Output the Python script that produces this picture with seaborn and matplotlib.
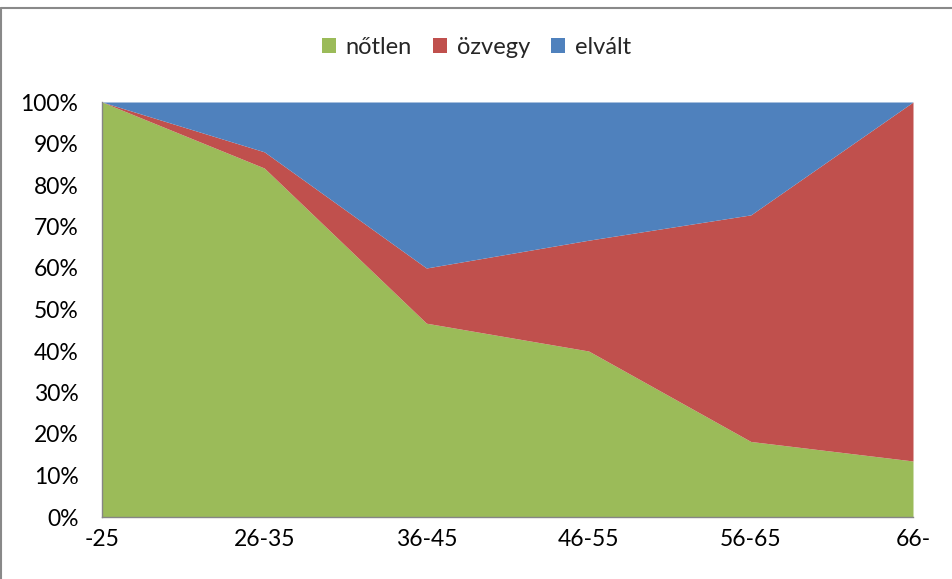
import matplotlib
matplotlib.use("Agg")
import matplotlib.pyplot as plt
from matplotlib.lines import Line2D
from matplotlib.patches import Patch
import seaborn as sns
import numpy as np

categories = ["-25", "26-35", "36-45", "46-55", "56-65", "66-"]
notlen = [100.0, 84.1, 46.7, 40.0, 18.2, 13.5]
ozvegy = [0.0, 3.9, 13.3, 26.7, 54.6, 86.5]
elvalt = [0.0, 12.0, 40.0, 33.3, 27.2, 0.0]
series_names = ["nőtlen", "özvegy", "elvált"]
colors = ["#9BBB59", "#C0504D", "#4F81BD"]

sns.set_theme(style="white")
plt.rcParams["font.family"] = ["Lato", "DejaVu Sans"]

W, H = 953, 579
fig = plt.figure(figsize=(W / 100, H / 100), dpi=100)
ax = fig.add_axes([102 / W, (H - 517) / H, (913 - 102) / W, (517 - 102) / H])

x = np.arange(len(categories))
ax.stackplot(x, notlen, ozvegy, elvalt, colors=colors, linewidth=0)

ax.set_xlim(0, len(categories) - 1)
ax.set_ylim(0, 100)
ax.set_xticks(x)
ax.set_xticklabels(categories)
ax.set_yticks(np.arange(0, 101, 10))
ax.set_yticklabels([f"{v}%" for v in range(0, 101, 10)])

for side in ["top", "right"]:
    ax.spines[side].set_visible(False)
for side in ["left", "bottom"]:
    ax.spines[side].set_color("#868686")
    ax.spines[side].set_linewidth(1.0)
ax.tick_params(axis="both", which="both", direction="out", length=5, width=1,
               color="#868686", labelsize=16.5, labelcolor="#000000")
ax.tick_params(axis="x", pad=4)
ax.tick_params(axis="y", pad=12)
ax.grid(False)

handles = [Patch(facecolor=c, edgecolor="none") for c in colors]
fig.legend(handles, series_names, loc="center", bbox_to_anchor=(0.5, 1 - 47 / H),
           ncol=3, frameon=False, fontsize=17, handlelength=0.6, handleheight=0.6,
           handletextpad=0.4, columnspacing=0.9)

# outer chart border
fig.add_artist(Line2D([1 / W, 1], [1 - 7.5 / H, 1 - 7.5 / H], color="#898989", lw=1.5,
                      transform=fig.transFigure))
fig.add_artist(Line2D([1.5 / W, 1.5 / W], [0, 1 - 7.5 / H], color="#898989", lw=1.5,
                      transform=fig.transFigure))

fig.savefig("out.png", dpi=100)
